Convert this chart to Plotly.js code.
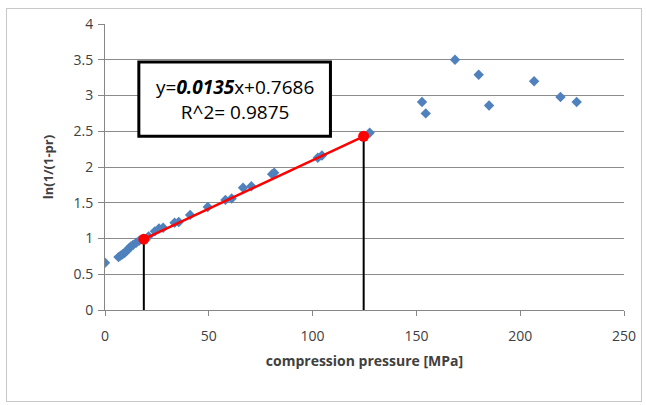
<!DOCTYPE html>
<html>
<head>
<meta charset="utf-8">
<script src="https://cdn.plot.ly/plotly-3.0.1.min.js"></script>
<style>
html,body{margin:0;padding:0;background:#fff;}
#wrap{position:relative;width:646px;height:405px;}
#chart{width:646px;height:405px;}
#frame{position:absolute;left:6px;top:8px;width:634px;height:392px;border:1px solid #c8c8c8;pointer-events:none;}
</style>
</head>
<body>
<div id="wrap"><div id="chart"></div><div id="frame"></div></div>
<script>
// measured data: compression pressure [MPa] vs ln(1/(1-pr))
var pressure = [0, 6.5, 7.5, 8.5, 9.5, 10.5, 11.5, 12.5, 13.5, 15, 16.5, 18.7, 21, 24, 26, 28, 33.5, 35.5, 41, 49.5, 58, 61, 66.5, 70.5, 80.5, 81.5, 102.5, 104.5, 125, 127.5, 152.7, 154.5, 168.6, 180, 185, 206.7, 219.4, 227.2];
var lnValue = [0.66, 0.74, 0.76, 0.78, 0.80, 0.83, 0.86, 0.89, 0.91, 0.94, 0.97, 0.99, 1.03, 1.10, 1.14, 1.15, 1.22, 1.23, 1.33, 1.44, 1.54, 1.56, 1.71, 1.73, 1.90, 1.92, 2.13, 2.16, 2.43, 2.48, 2.91, 2.75, 3.50, 3.29, 2.86, 3.20, 2.98, 2.91];
// linear fit segment end points (red)
var fitX = [18.7, 124.6];
var fitY = [0.99, 2.43];
var xTicks = [0, 50, 100, 150, 200, 250];
var yTicks = [0, 0.5, 1, 1.5, 2, 2.5, 3, 3.5, 4];
var eqText = 'y=<b><i>0.0135</i></b>x+0.7686<br>R^2= 0.9875';

var font = 'Open Sans, Liberation Sans, sans-serif';
var traces = [
  {x: pressure, y: lnValue, mode: 'markers', type: 'scatter',
   marker: {symbol: 'diamond', size: 8, color: '#4F81BD'}, hoverinfo: 'skip'},
  {x: [fitX[0], fitX[0]], y: [0, fitY[0]], mode: 'lines', type: 'scatter',
   line: {color: '#000', width: 2}},
  {x: [fitX[1], fitX[1]], y: [0, fitY[1]], mode: 'lines', type: 'scatter',
   line: {color: '#000', width: 2}},
  {x: fitX, y: fitY, mode: 'lines+markers', type: 'scatter',
   line: {color: '#FF0000', width: 2.5}, marker: {color: '#FF0000', size: 11}}
];
var layout = {
  width: 646, height: 405,
  margin: {l: 105, r: 22, t: 24, b: 95},
  paper_bgcolor: '#fff', plot_bgcolor: '#fff',
  showlegend: false,
  font: {family: font, size: 13, color: '#404040'},
  xaxis: {range: [0, 250], tickvals: xTicks, ticktext: xTicks.map(String),
    showgrid: false, zeroline: false, showline: true, linecolor: '#868686', linewidth: 1,
    ticks: 'outside', ticklen: 5, tickcolor: '#868686', ticklabelstandoff: 8,
    tickfont: {size: 14, color: '#404040', family: font},
    title: {text: '<b>compression pressure [MPa]</b>', font: {size: 14, color: '#404040', family: font}, standoff: 12}},
  yaxis: {range: [0, 4], tickvals: yTicks, ticktext: yTicks.map(String),
    showgrid: true, gridcolor: '#8c8c8c', gridwidth: 1, zeroline: false,
    showline: true, linecolor: '#868686', linewidth: 1,
    ticks: 'outside', ticklen: 6, tickcolor: '#868686', ticklabelstandoff: 2,
    tickfont: {size: 14, color: '#404040', family: font},
    title: {text: '<b>ln(1/(1-pr)</b>', font: {size: 13, color: '#404040', family: font}, standoff: 16}},
  shapes: [
    {type: 'rect', xref: 'x', yref: 'y', x0: 16.3, x1: 108.6, y0: 2.43, y1: 3.47,
     line: {color: '#000', width: 3}, fillcolor: '#fff', layer: 'above'}
  ],
  annotations: [
    {xref: 'x', yref: 'y', x: 62.45, y: 2.95, text: eqText, showarrow: false,
     font: {size: 19, color: '#000', family: font}, align: 'center'}
  ]
};
Plotly.newPlot('chart', traces, layout, {displayModeBar: false, staticPlot: true});
</script>
</body>
</html>
